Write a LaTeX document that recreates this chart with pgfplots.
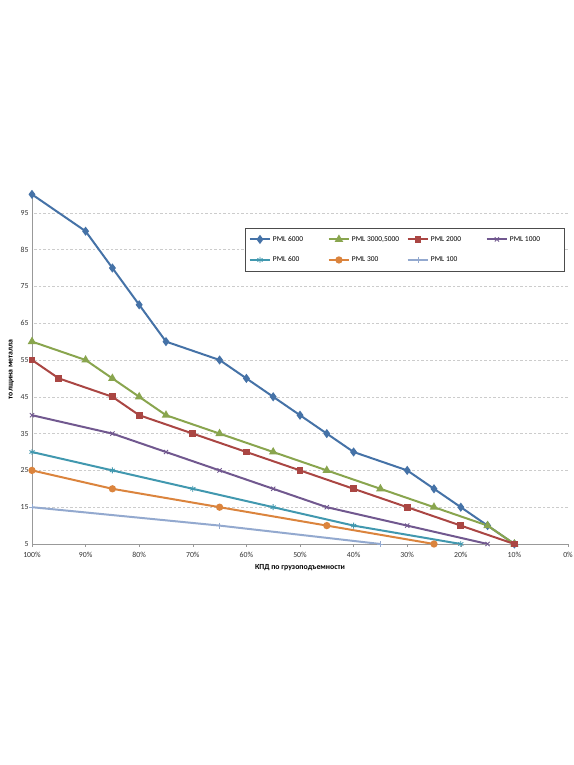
\documentclass[border=0pt]{standalone}
\usepackage{fontspec}
\setmainfont{Carlito}
\usepackage{pgfplots}
\pgfplotsset{compat=1.18}
\definecolor{c1}{HTML}{4572A7}
\definecolor{c2}{HTML}{89A54E}
\definecolor{c3}{HTML}{AA4643}
\definecolor{c4}{HTML}{71588F}
\definecolor{c5}{HTML}{4198AF}
\definecolor{c6}{HTML}{DB843D}
\definecolor{c7}{HTML}{93A9CF}
\begin{document}
\begin{tikzpicture}
\path[use as bounding box, fill=white] (0,0) rectangle (574bp,765bp);
\begin{axis}[
  at={(32bp,221bp)}, anchor=south west,
  scale only axis, width=536bp, height=349.6bp,
  x dir=reverse,
  xmin=0, xmax=100, ymin=5, ymax=100,
  xtick={0,10,...,100},
  xticklabel={\pgfmathprintnumber{\tick}\%},
  ytick={5,15,...,95},
  /pgf/number format/assume math mode=true,
  tick label style={font=\fontsize{7.8}{9}\selectfont, text=black!80},
  xticklabel style={yshift=-2bp},
  axis x line*=bottom, axis y line*=left,
  axis line style={black!40},
  x tick style={black!40}, y tick style={draw=none},
  xtick align=outside, major tick length=3bp,
  ymajorgrids, grid style={dash pattern=on 2.5bp off 2bp, black!20},
  xlabel={\bfseries КПД по грузоподъемности},
  ylabel={\bfseries толщина металла},
  label style={font=\fontsize{7.8}{9}\selectfont},
  xlabel style={at={(axis description cs:0.5,0)}, anchor=north, yshift=-17bp},
  every axis y label/.append style={at={(ticklabel cs:0.5)}},
  legend columns=4,
  legend style={at={(axis description cs:0.397,0.904)}, anchor=north west,
    draw=black!70, fill=white, font=\fontsize{7.5}{9}\selectfont,
    inner xsep=4bp, inner ysep=6bp, row sep=10bp},
  legend cell align=left,
  legend image code/.code={\draw[#1] (0bp,0bp) -- (20bp,0bp); \draw[#1, mark repeat=2, mark phase=2] plot coordinates {(0bp,0bp) (10bp,0bp) (20bp,0bp)};},
  every axis plot/.append style={line width=2pt, mark size=2.6pt},
]
\addplot[c1, mark=diamond*, mark size=3pt] coordinates {(100,100) (90,90) (85,80) (80,70) (75,60) (65,55) (60,50) (55,45) (50,40) (45,35) (40,30) (30,25) (25,20) (20,15) (15,10) (10,5)};
\addlegendentry{\makebox[53bp][l]{PML 6000}}
\addplot[c2, mark=triangle*, mark size=3pt] coordinates {(100,60) (90,55) (85,50) (80,45) (75,40) (65,35) (55,30) (45,25) (35,20) (25,15) (15,10) (10,5)};
\addlegendentry{\makebox[53bp][l]{PML 3000,5000}}
\addplot[c3, mark=square*, mark size=2.4pt] coordinates {(100,55) (95,50) (85,45) (80,40) (70,35) (60,30) (50,25) (40,20) (30,15) (20,10) (10,5)};
\addlegendentry{\makebox[53bp][l]{PML 2000}}
\addplot[c4, mark=x, mark size=3pt, mark options={line width=0.9pt}] coordinates {(100,40) (85,35) (75,30) (65,25) (55,20) (45,15) (30,10) (15,5)};
\addlegendentry{\makebox[48bp][l]{PML 1000}}
\addplot[c5, mark=asterisk, mark size=3pt, mark options={line width=0.9pt}] coordinates {(100,30) (85,25) (70,20) (55,15) (40,10) (20,5)};
\addlegendentry{\makebox[53bp][l]{PML 600}}
\addplot[c6, mark=*, mark size=2.6pt] coordinates {(100,25) (85,20) (65,15) (45,10) (25,5)};
\addlegendentry{\makebox[53bp][l]{PML 300}}
\addplot[c7, mark=+, mark size=3pt, mark options={line width=0.8pt}] coordinates {(100,15) (65,10) (35,5)};
\addlegendentry{\makebox[53bp][l]{PML 100}}
\end{axis}
\end{tikzpicture}
\end{document}
